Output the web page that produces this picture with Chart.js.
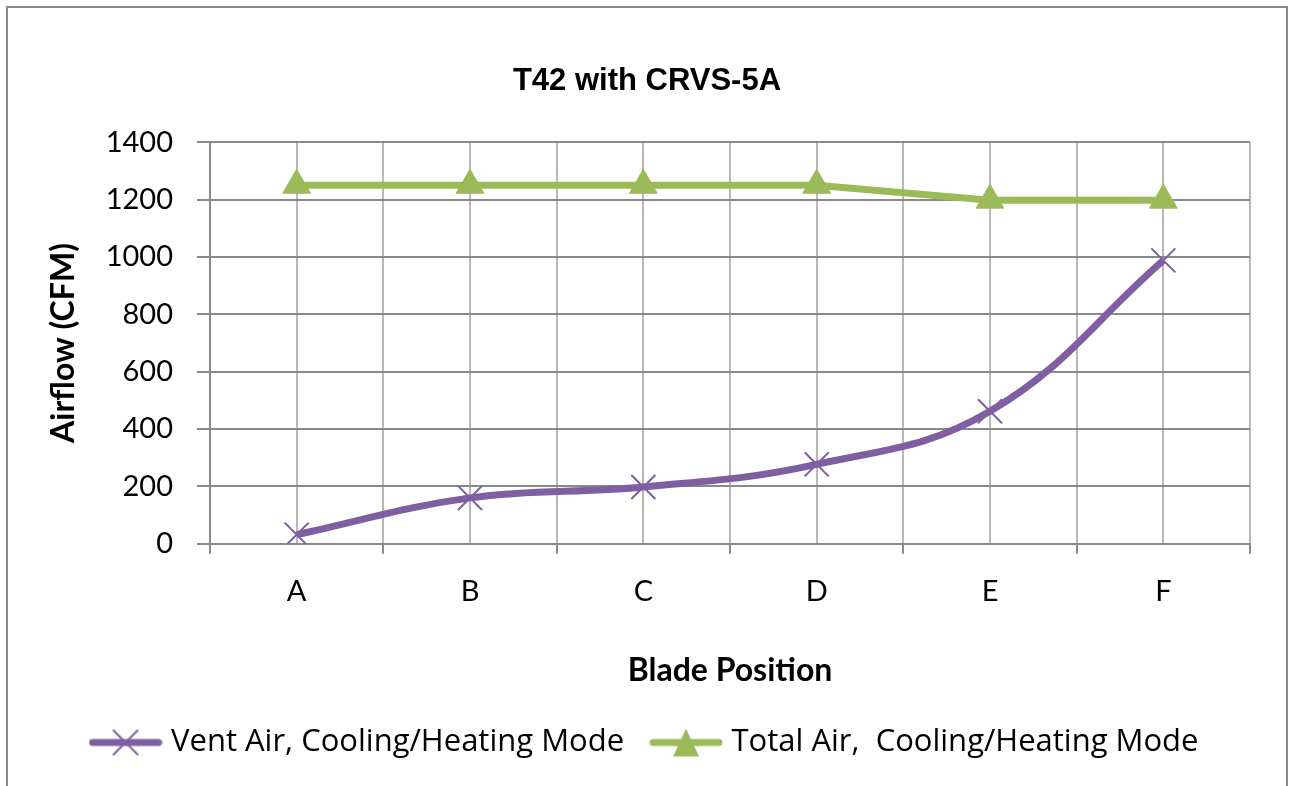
<!DOCTYPE html>
<html>
<head>
<meta charset="utf-8">
<script src="https://cdn.jsdelivr.net/npm/chart.js@4.4.0/dist/chart.umd.min.js"></script>
<style>
  html, body { margin: 0; padding: 0; background: #fff; }
  #wrap { position: relative; width: 1293px; height: 786px; overflow: hidden; }
  #marco { position: absolute; left: 6px; top: 6px; width: 1282px; height: 840px;
           border: 2px solid #898989; box-sizing: border-box; pointer-events: none; }
</style>
</head>
<body>
<div id="wrap">
  <canvas id="grafico" width="1293" height="786"></canvas>
  <div id="marco"></div>
</div>
<script>
// Datos del gráfico
const posiciones = ['A', 'B', 'C', 'D', 'E', 'F'];
const aireVentilacion = [32, 160, 198, 277, 462, 988];
const aireTotal = [1250, 1250, 1250, 1250, 1198, 1198];
const ticksY = [0, 200, 400, 600, 800, 1000, 1200, 1400];

const morado = '#7F5FA1';
const verde = '#9BBB59';

// Icono de leyenda: línea con marcador
function iconoLeyenda(color, estilo) {
    const c = document.createElement('canvas');
    c.width = 74; c.height = 34;
    const g = c.getContext('2d');
    g.strokeStyle = color;
    g.lineWidth = 7;
    g.lineCap = 'round';
    g.beginPath();
    g.moveTo(4, 17); g.lineTo(70, 17);
    g.stroke();
    if (estilo === 'cruz') {
        g.lineWidth = 2;
        g.beginPath();
        g.moveTo(25, 5); g.lineTo(49, 29);
        g.moveTo(49, 5); g.lineTo(25, 29);
        g.stroke();
    } else {
        g.fillStyle = color;
        g.beginPath();
        g.moveTo(37, 3); g.lineTo(50, 31); g.lineTo(24, 31);
        g.closePath();
        g.fill();
    }
    return c;
}
const iconos = [iconoLeyenda(morado, 'cruz'), iconoLeyenda(verde, 'tri')];

const ctx = document.getElementById('grafico').getContext('2d');
new Chart(ctx, {
    type: 'line',
    data: {
        datasets: [{
            label: 'Vent Air, Cooling/Heating Mode',
            data: aireVentilacion.map((v, i) => ({ x: i, y: v })),
            borderColor: morado,
            backgroundColor: morado,
            borderWidth: 7,
            tension: 0.4,
            pointStyle: 'crossRot',
            pointRadius: 17,
            pointBorderWidth: 2,
            pointBorderColor: morado
        }, {
            label: 'Total Air,  Cooling/Heating Mode',
            data: aireTotal.map((v, i) => ({ x: i, y: v })),
            borderColor: verde,
            backgroundColor: verde,
            borderWidth: 7,
            tension: 0,
            pointStyle: 'triangle',
            pointRadius: 16,
            pointBorderWidth: 1,
            pointBorderColor: verde
        }]
    },
    options: {
        responsive: false,
        animation: false,
        layout: { padding: { left: 44, right: 43, top: 0, bottom: 18 } },
        plugins: {
            title: {
                display: true,
                text: 'T42 with CRVS-5A',
                color: '#000',
                font: { family: '"Liberation Sans", Arial, sans-serif', size: 31, weight: 'bold' },
                padding: { top: 63, bottom: 42 }
            },
            legend: {
                position: 'bottom',
                labels: {
                    usePointStyle: true,
                    pointStyleWidth: 60,
                    color: '#000',
                    padding: 32,
                    font: { family: '"Open Sans", sans-serif', size: 31 },
                    generateLabels: function(chart) {
                        return chart.data.datasets.map((ds, i) => ({
                            text: ds.label,
                            pointStyle: iconos[i],
                            fillStyle: ds.borderColor,
                            strokeStyle: ds.borderColor,
                            lineWidth: 0,
                            datasetIndex: i,
                            hidden: false
                        }));
                    }
                }
            },
            tooltip: { enabled: false }
        },
        scales: {
            x: {
                type: 'linear',
                min: -0.5,
                max: 5.5,
                afterBuildTicks: function(scale) {
                    const t = [];
                    for (let i = 0; i <= posiciones.length * 2; i++) t.push({ value: -0.5 + i * 0.5 });
                    scale.ticks = t;
                },
                ticks: {
                    autoSkip: false,
                    maxRotation: 0,
                    color: '#000',
                    padding: 20,
                    font: { family: 'Lato, sans-serif', size: 29 },
                    callback: function(value) {
                        return Number.isInteger(value) ? posiciones[value] : '';
                    }
                },
                grid: {
                    color: '#b8b8b8',
                    lineWidth: 2,
                    tickLength: 10,
                    tickColor: function(c) {
                        return (c.tick && Number.isInteger(c.tick.value)) ? 'rgba(0,0,0,0)' : '#8a8a8a';
                    }
                },
                border: { color: '#8a8a8a', width: 2 },
                title: {
                    display: true,
                    text: 'Blade Position',
                    color: '#000',
                    font: { family: 'Lato, sans-serif', size: 32, weight: 'bold' },
                    padding: { top: 23, bottom: 5 }
                }
            },
            y: {
                min: 0,
                max: 1400,
                afterBuildTicks: function(scale) {
                    scale.ticks = ticksY.map(v => ({ value: v }));
                },
                afterFit: function(scale) {
                    scale.width = 166;
                },
                ticks: {
                    color: '#000',
                    padding: 24,
                    font: { family: 'Lato, sans-serif', size: 29 },
                    callback: function(value) {
                        return String(value);
                    }
                },
                grid: {
                    color: '#8a8a8a',
                    lineWidth: 2,
                    tickLength: 13
                },
                border: { color: '#8a8a8a', width: 2 },
                title: {
                    display: true,
                    text: 'Airflow (CFM)',
                    color: '#000',
                    font: { family: 'Lato, sans-serif', size: 32, weight: 'bold' },
                    padding: { top: 0, bottom: 0 }
                }
            }
        }
    }
});
</script>
</body>
</html>
